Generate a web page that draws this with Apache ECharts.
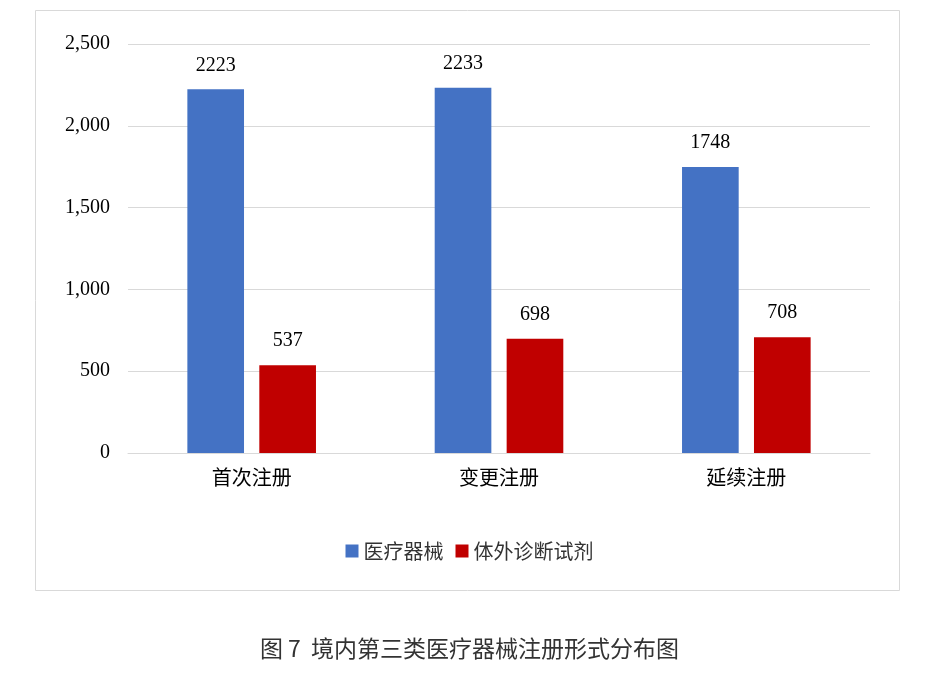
<!DOCTYPE html>
<html><head><meta charset="utf-8">
<script src="https://cdn.jsdelivr.net/npm/echarts@6/dist/echarts.min.js"></script>
<style>html,body{margin:0;padding:0;background:#fff}#c{width:939px;height:690px}</style>
</head><body><div id="c"></div>
<script>
const categories = ['首次注册','变更注册','延续注册'];
const seriesNames = ['医疗器械','体外诊断试剂'];
const device = [2223, 2233, 1748];
const ivd = [537, 698, 708];
const title = '图 7  境内第三类医疗器械注册形式分布图';
const chart = echarts.init(document.getElementById('c'));
const lbl = {show:true, position:'top', distance:14, color:'#000', fontSize:20, fontFamily:'Liberation Serif'};
chart.setOption({
  animation:false,
  graphic:[{type:'rect', shape:{x:35.5,y:10.5,width:864,height:580}, style:{fill:'none',stroke:'#d9d9d9',lineWidth:1}}],
  title:{text:title, left:'center', top:632, textStyle:{fontFamily:'Noto Sans CJK SC', fontWeight:'normal', fontSize:23, color:'#333'}},
  legend:{data:seriesNames, top:536, left:'center', itemWidth:13, itemHeight:13, itemGap:12, icon:'rect',
    textStyle:{fontFamily:'Noto Sans CJK SC', fontSize:20, color:'#333'}},
  grid:{left:128, right:69, top:44, bottom:237, containLabel:false},
  xAxis:{type:'category', data:categories, axisTick:{show:false}, axisLine:{lineStyle:{color:'#d9d9d9'}},
    axisLabel:{fontFamily:'Noto Sans CJK SC', fontSize:20, color:'#000', margin:14}},
  yAxis:{type:'value', min:0, max:2500, interval:500, axisLabel:{fontFamily:'Liberation Serif', fontSize:20, color:'#000', margin:18},
    splitLine:{lineStyle:{color:'#d9d9d9'}}},
  series:[
    {name:seriesNames[0], type:'bar', data:device, itemStyle:{color:'#4472c4'}, label:lbl, barGap:'27%', barCategoryGap:'48%'},
    {name:seriesNames[1], type:'bar', data:ivd, itemStyle:{color:'#c00000'}, label:lbl}
  ]
});
</script></body></html>
